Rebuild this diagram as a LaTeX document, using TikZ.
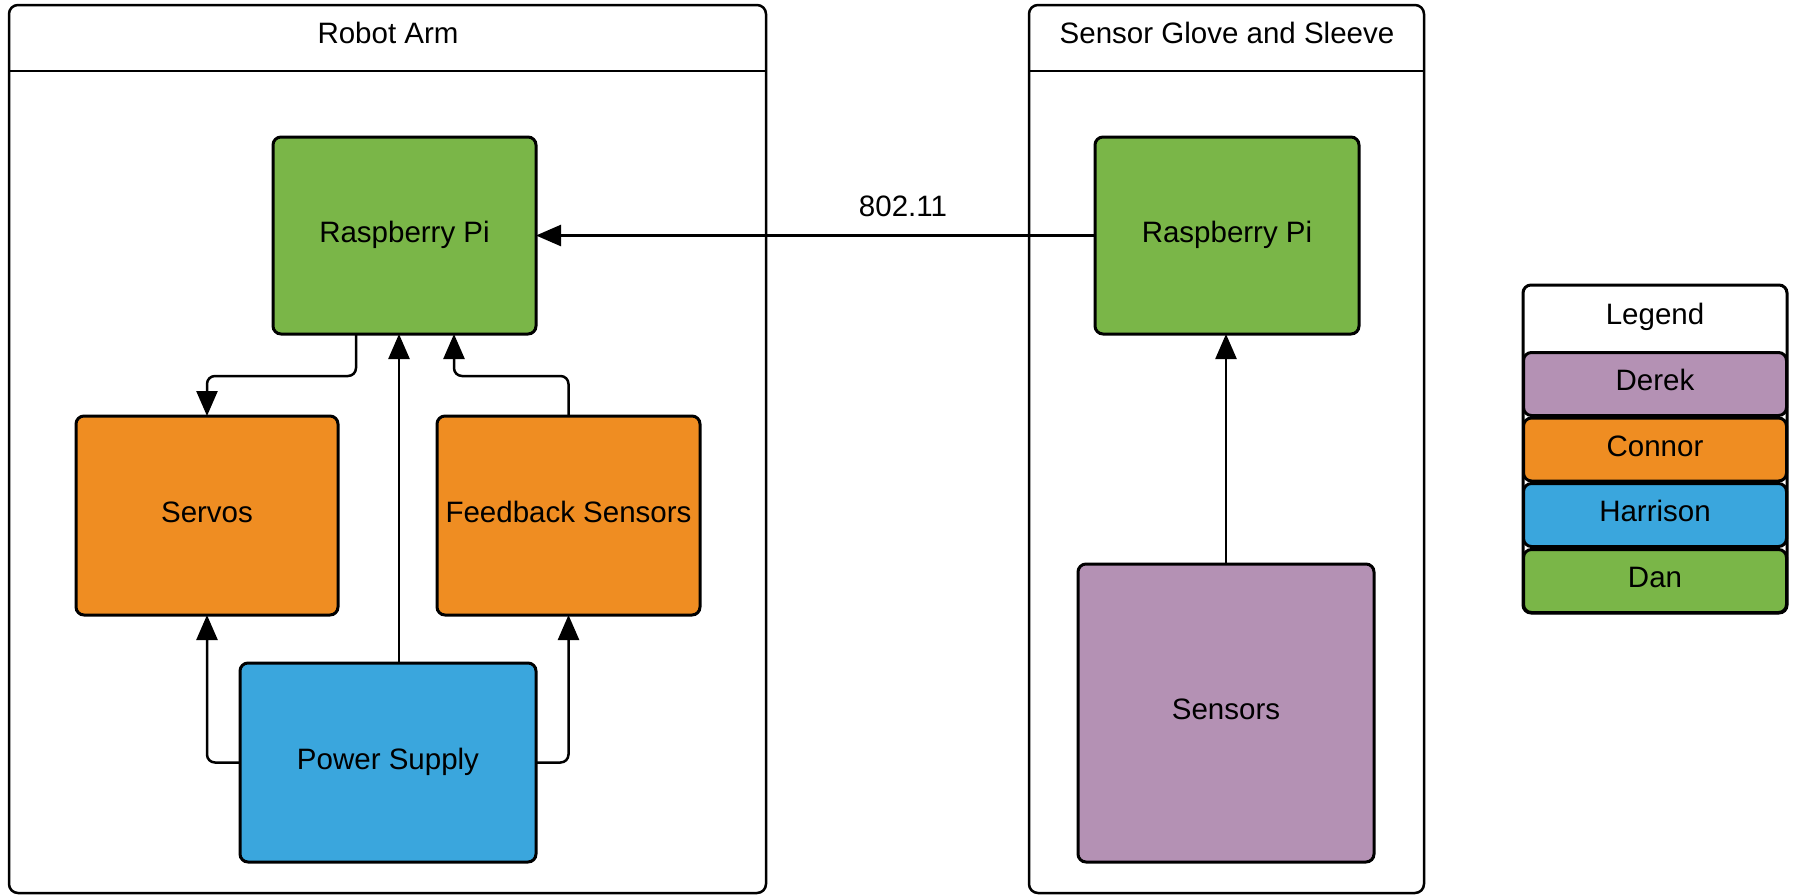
\documentclass[tikz,border=0pt]{standalone}
\usepackage{fontspec}
\setmainfont{Liberation Sans}
\usetikzlibrary{arrows.meta,calc}
\definecolor{pigreen}{HTML}{7AB648}
\definecolor{orng}{HTML}{EF8D22}
\definecolor{blu}{HTML}{3AA6DD}
\definecolor{purp}{HTML}{B491B4}
\tikzset{
  every node/.style={font=\fontsize{29.5pt}{35pt}\selectfont, inner sep=0pt, outer sep=0pt, text height=21pt, text depth=8pt},
  blockbox/.style={draw=black, line width=3pt, rounded corners=8pt, rectangle},
  frame/.style={draw=black, line width=2.5pt, rounded corners=9pt, rectangle, fill=white},
  conn/.style={draw=black, line width=2.5pt, rounded corners=8pt, -{Triangle[length=25pt,width=21pt]}},
  legrow/.style={blockbox, minimum width=263pt, minimum height=63pt},
}
\begin{document}
\begin{tikzpicture}[x=1pt,y=-1pt]
\useasboundingbox (0,0) rectangle (1793,895);
% containers
\node[frame, minimum width=757pt, minimum height=888pt] (arm) at (387.5,449) {};
\draw[line width=2.5pt] (arm.west |- 0,71) -- (arm.east |- 0,71);
\node (armtitle) at (388,37) {Robot Arm};
\node[frame, minimum width=395pt, minimum height=888pt] (glove) at (1226.5,449) {};
\draw[line width=2.5pt] (glove.west |- 0,71) -- (glove.east |- 0,71);
\node (glovetitle) at (1227,37) {Sensor Glove and Sleeve};
% blocks
\node[blockbox, fill=pigreen, minimum width=263pt, minimum height=197pt] (rpi1) at (404.5,235.5) {Raspberry Pi};
\node[blockbox, fill=orng, minimum width=262pt, minimum height=199pt] (servos) at (207,515.5) {Servos};
\node[blockbox, fill=orng, minimum width=263pt, minimum height=199pt] (fb) at (568.5,515.5) {Feedback Sensors};
\node[blockbox, fill=blu, minimum width=296pt, minimum height=199pt] (power) at (388,762.5) {Power Supply};
\node[blockbox, fill=pigreen, minimum width=264pt, minimum height=197pt] (rpi2) at (1227,235.5) {Raspberry Pi};
\node[blockbox, fill=purp, minimum width=296pt, minimum height=298pt] (sensors) at (1226,713) {Sensors};
% connectors
\draw[conn] (rpi2.west) -- (rpi1.east);
\node (wifi) at (903,210) {802.11};
\draw[conn] ([xshift=-48.5pt]rpi1.south) -- ++(0,42) -| (servos.north);
\draw[conn] ([xshift=11pt]power.north) -- ([xshift=-5.5pt]rpi1.south);
\draw[conn] (fb.north) -- ++(0,-40) -| ([xshift=49.5pt]rpi1.south);
\draw[conn] (power.west) -| (servos.south);
\draw[conn] (power.east) -| (fb.south);
\draw[conn] (sensors.north) -- (sensors.north |- rpi2.south);
% legend
\node[blockbox, fill=white, minimum width=264pt, minimum height=328pt] (legend) at (1655,449) {};
\node (legtitle) at (1655,318) {Legend};
\node[legrow, fill=purp] (derek) at (1655,384) {Derek};
\node[legrow, fill=orng] (connor) at (1655,449.5) {Connor};
\node[legrow, fill=blu] (harrison) at (1655,515) {Harrison};
\node[legrow, fill=pigreen] (dan) at (1655,581) {Dan};
\end{tikzpicture}
\end{document}
